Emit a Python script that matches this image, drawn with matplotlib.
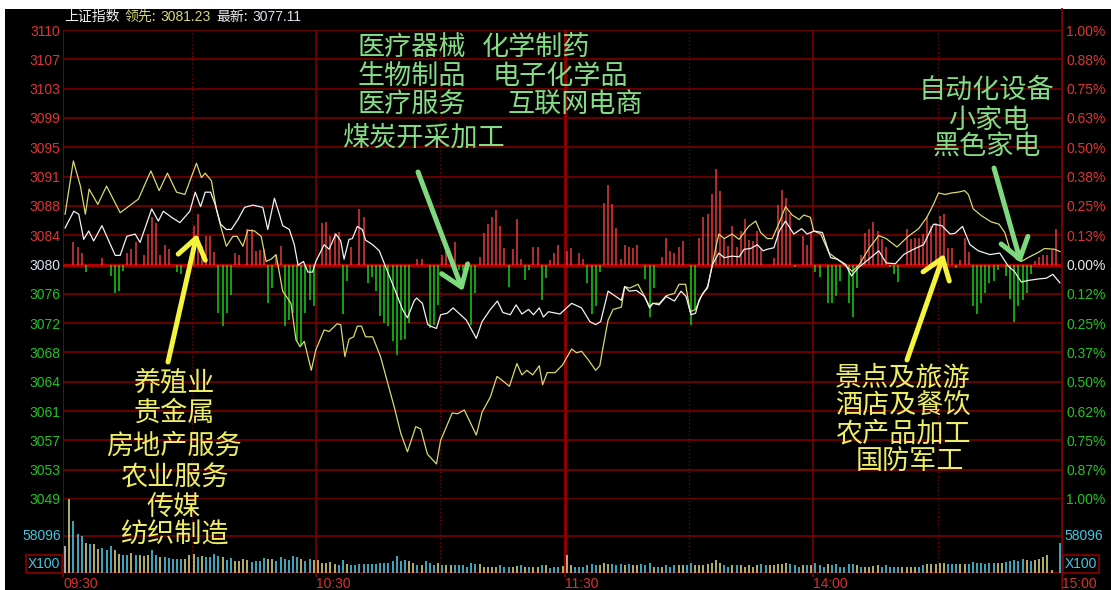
import matplotlib
matplotlib.use('Agg')
import matplotlib.pyplot as plt
from matplotlib.patches import Rectangle
from matplotlib.lines import Line2D
import numpy as np

W, H = 1111, 590

# ---------------- data ----------------
pre_close = 3080.0
step = 3.85  # one grid row = 0.125%

left_labels = ['3110', '3107', '3103', '3099', '3095', '3091', '3088', '3084', '3080',
               '3076', '3072', '3068', '3064', '3061', '3057', '3053', '3049']
right_labels = ['1.00%', '0.88%', '0.75%', '0.63%', '0.50%', '0.38%', '0.25%', '0.13%', '0.00%',
                '0.12%', '0.25%', '0.37%', '0.50%', '0.62%', '0.75%', '0.87%', '1.00%']
time_ticks = [-0.5, 60.5, 120.5, 180.5, 240.5]
time_labels = ['09:30', '10:30', '11:30', '14:00', '15:00']

# white line (index price)
price_t = [0, 2.1, 3.3, 4.5, 5.7, 6.9, 8.9, 12.1, 13.3, 14.9, 16.9, 18.1, 20.9, 22.5, 23.7, 25.7,
           27.7, 30.1, 31.4, 32.7, 33.8, 35.1, 36.2, 37.5, 38.9, 40.1, 41.7, 43.3, 45.3, 47.7,
           48.9, 50.5, 51.7, 52.5, 54.1, 55.3, 56.2, 57.5, 58.6, 59.7, 60.5, 62.5, 63.7, 65.3,
           66.5, 67.3, 68.5, 69.3, 70.5, 71.7, 72.5, 74.2, 75.8, 77.4, 79.4, 81.4, 82.6, 84.2,
           84.8, 86.2, 87.5, 88.2, 89.6, 90.6, 92.2, 93.6, 95.0, 96.8, 99.2, 100.6, 102.6, 104.3,
           105.6, 107.4, 108.8, 110.2, 111.8, 113.0, 114.4, 115.4, 116.6, 119.4, 122.2, 124.6,
           126.6, 128.0, 129.2, 131.0, 134.2, 135.0, 136.1, 137.8, 139.8, 141.0, 141.8, 143.3,
           145.0, 147.0, 148.6, 149.8, 151.0, 152.1, 153.0, 155.0, 156.2, 157.7, 159.0, 160.9,
           162.6, 163.8, 165.4, 167.0, 168.4, 169.4, 171.0, 172.3, 173.8, 175.8, 177.7, 179.0,
           180.7, 182.7, 184.7, 186.3, 188.3, 189.7, 191.4, 193.9, 196.3, 198.1, 200.3, 202.3,
           204.3, 207.1, 209.5, 211.5, 213.5, 214.7, 216.5, 218.3, 220.3, 223.1, 225.5, 227.5,
           229.0, 230.7, 232.3, 234.8, 236.7, 238.3, 240]
price_v = [3084.8, 3087.0, 3086.6, 3083.3, 3084.4, 3083.1, 3085.1, 3081.2, 3081.2, 3083.7, 3084.0,
           3082.9, 3087.3, 3085.7, 3087.0, 3086.2, 3085.5, 3087.0, 3089.5, 3087.6, 3089.5, 3089.5,
           3087.9, 3085.3, 3084.6, 3084.6, 3085.9, 3087.5, 3087.8, 3087.5, 3084.6, 3088.7, 3086.6,
           3085.1, 3084.6, 3082.6, 3079.9, 3080.4, 3079.0, 3079.0, 3080.4, 3082.6, 3082.0, 3084.0,
           3083.1, 3080.7, 3083.3, 3083.4, 3085.0, 3084.6, 3083.2, 3082.6, 3081.8, 3079.6, 3076.9,
           3074.1, 3073.0, 3075.2, 3075.6, 3074.9, 3072.1, 3071.9, 3071.6, 3073.4, 3073.6, 3074.3,
           3073.6, 3072.7, 3070.3, 3072.5, 3074.1, 3075.2, 3073.7, 3073.4, 3074.7, 3073.5, 3074.1,
           3073.4, 3074.3, 3073.1, 3073.8, 3073.5, 3074.9, 3074.3, 3072.5, 3072.1, 3072.5, 3076.5,
           3075.3, 3077.1, 3076.5, 3076.6, 3075.8, 3074.3, 3074.9, 3074.7, 3075.8, 3075.2, 3076.5,
           3075.8, 3073.4, 3073.6, 3075.4, 3077.1, 3080.0, 3081.5, 3080.9, 3081.1, 3081.0, 3082.0,
           3082.1, 3082.6, 3081.8, 3082.0, 3082.2, 3084.4, 3085.7, 3084.0, 3084.7, 3084.0, 3084.4,
           3084.2, 3080.9, 3080.7, 3080.0, 3078.5, 3079.6, 3080.7, 3081.8, 3080.2, 3080.1, 3081.3,
           3081.9, 3082.6, 3085.3, 3085.1, 3084.0, 3084.1, 3085.0, 3082.6, 3081.8, 3081.3, 3081.5,
           3079.8, 3079.1, 3077.7, 3077.9, 3078.1, 3078.2, 3078.7, 3077.6]

# yellow line (leading index)
lead_t = [0, 2.0, 3.7, 4.9, 5.8, 7.9, 10.0, 13.3, 17.7, 20.7, 22.7, 24.7, 26.9, 28.9, 31.7, 32.9,
          33.8, 35.3, 36.5, 37.5, 38.9, 40.5, 41.5, 42.9, 44.1, 45.7, 47.3, 48.5, 49.7, 50.9,
          52.5, 54.5, 55.7, 56.7, 57.7, 59.4, 60.5, 62.5, 63.7, 65.6, 66.5, 67.5, 68.5, 69.6,
          70.5, 71.5, 72.5, 74.2, 76.1, 79.4, 81.0, 82.6, 84.6, 85.8, 87.4, 89.6, 90.6, 93.4,
          94.7, 96.3, 99.2, 100.6, 102.6, 104.2, 105.4, 107.2, 109.0, 110.2, 111.4, 112.8, 114.4,
          115.2, 116.3, 118.2, 120.0, 122.2, 123.4, 124.6, 126.2, 128.0, 129.0, 129.8, 131.0,
          132.2, 134.2, 135.0, 136.2, 138.2, 139.4, 141.0, 141.8, 143.4, 145.0, 147.0, 148.1,
          149.7, 150.8, 152.1, 153.8, 155.0, 156.4, 157.7, 159.0, 160.9, 162.6, 164.9, 166.6,
          167.8, 169.4, 170.6, 172.3, 173.8, 175.4, 177.1, 178.2, 179.8, 180.6, 182.3, 184.3,
          187.5, 189.9, 191.5, 193.9, 196.3, 198.1, 200.7, 203.4, 205.9, 207.9, 209.5, 210.7,
          212.3, 213.9, 215.4, 217.0, 217.9, 219.1, 221.1, 223.4, 225.3, 226.7, 227.9, 229.5,
          230.7, 232.3, 234.8, 236.3, 238.7, 240]
lead_v = [3086.6, 3093.6, 3090.3, 3086.6, 3089.9, 3087.9, 3090.3, 3086.8, 3088.6, 3092.3, 3089.7,
          3092.0, 3089.5, 3089.2, 3093.3, 3091.4, 3092.0, 3091.0, 3087.3, 3085.1, 3082.4, 3083.7,
          3083.7, 3082.4, 3084.5, 3084.4, 3083.7, 3080.4, 3080.7, 3081.3, 3076.5, 3074.9, 3070.1,
          3069.2, 3069.9, 3066.1, 3068.8, 3071.4, 3071.2, 3072.2, 3072.1, 3067.9, 3070.2, 3070.5,
          3071.9, 3071.9, 3070.5, 3070.5, 3067.9, 3061.3, 3057.8, 3055.4, 3058.7, 3058.4, 3055.1,
          3053.8, 3056.9, 3060.5, 3060.4, 3060.9, 3057.6, 3060.6, 3062.6, 3065.3, 3064.8, 3064.0,
          3067.0, 3065.5, 3066.1, 3065.5, 3066.7, 3064.2, 3065.8, 3065.8, 3066.8, 3068.9, 3068.4,
          3068.6, 3067.5, 3066.1, 3066.7, 3069.2, 3072.7, 3074.1, 3074.4, 3077.1, 3076.9, 3077.4,
          3076.2, 3074.5, 3074.9, 3074.9, 3075.9, 3076.2, 3077.4, 3077.4, 3073.8, 3074.1, 3076.2,
          3076.9, 3080.7, 3084.0, 3083.4, 3084.0, 3083.3, 3085.0, 3085.7, 3084.2, 3083.4, 3083.4,
          3085.5, 3087.6, 3086.5, 3085.9, 3086.5, 3086.2, 3084.4, 3084.0, 3081.5, 3080.2, 3079.1,
          3079.9, 3082.1, 3083.8, 3083.4, 3082.3, 3083.7, 3084.7, 3086.2, 3087.9, 3089.4, 3089.2,
          3089.4, 3089.5, 3089.7, 3089.2, 3087.3, 3086.4, 3085.6, 3085.3, 3084.2, 3082.0, 3080.7,
          3080.4, 3080.9, 3081.6, 3082.1, 3082.0, 3081.7]

# red / green strength bars around the pre-close line
up_t = [2, 3, 4, 9, 15, 16, 17, 19, 20, 21, 22, 23, 24, 25, 31, 32, 33, 34, 35, 36, 41, 42, 44, 45,
        46, 47, 48, 51, 52, 62, 63, 64, 65, 66, 69, 71, 72, 85, 86, 91, 92, 94, 100, 101, 102, 103,
        104, 105, 106, 108, 109, 110, 113, 114, 117, 118, 119, 121, 122, 124, 125, 130, 131, 132,
        133, 134, 135, 136, 137, 138, 144, 145, 146, 147, 148, 149, 153, 154, 155, 156, 157, 158,
        159, 160, 161, 162, 163, 164, 165, 166, 167, 168, 171, 172, 173, 174, 175, 178, 179, 180,
        192, 193, 194, 195, 196, 197, 198, 203, 204, 205, 206, 207, 208, 209, 210, 211, 212, 213,
        214, 216, 217, 218, 234, 235, 236, 237, 238, 239]
up_v = [3.0, 2.3, 1.5, 0.9, 1.5, 2.1, 2.9, 1.2, 4.0, 6.2, 5.4, 1.2, 2.6, 2.1, 5.1, 6.6, 2.4, 3.7, 3.8,
        1.6, 1.5, 1.2, 4.6, 4.6, 1.8, 1.9, 2.0, 1.3, 2.4, 5.4, 5.6, 3.7, 4.2, 4.3, 2.3, 7.3, 6.2, 0.7,
        0.7, 1.3, 2.0, 2.9, 1.0, 4.1, 5.3, 6.2, 7.1, 5.1, 2.2, 2.0, 6.0, 0.7, 2.3, 2.3, 0.6, 1.5, 2.6,
        1.8, 2.2, 1.5, 0.7, 8.1, 10.5, 7.9, 4.8, 0.7, 2.6, 2.3, 2.2, 2.6, 1.0, 3.5, 1.8, 1.5, 2.3,
        3.1, 3.5, 6.2, 6.6, 9.2, 12.5, 9.7, 3.3, 2.4, 5.0, 2.3, 4.4, 6.0, 3.2, 3.1, 4.4, 2.0, 0.9,
        7.8, 9.8, 8.8, 6.6, 3.7, 2.6, 4.3, 1.2, 4.1, 4.6, 5.6, 4.4, 3.3, 2.3, 4.6, 3.4, 3.5, 3.5,
        4.0, 6.3, 5.0, 5.5, 6.4, 6.6, 2.2, 2.2, 0.6, 3.5, 1.6, 0.4, 1.0, 1.2, 1.3, 1.9, 4.6]
down_t = [5, 11, 12, 13, 14, 27, 28, 37, 38, 39, 40, 49, 50, 53, 54, 55, 56, 57, 58, 59, 60, 67, 68,
          73, 74, 75, 76, 77, 78, 79, 80, 81, 82, 83, 88, 89, 90, 95, 96, 97, 98, 99, 107, 111, 112,
          115, 116, 126, 127, 128, 129, 140, 141, 142, 151, 152, 176, 181, 182, 184, 185, 186, 187,
          189, 190, 191, 199, 200, 201, 215, 219, 220, 221, 222, 223, 224, 225, 227, 228, 229, 230,
          231, 232, 233]
down_v = [1.0, 1.5, 3.7, 3.5, 0.9, 1.0, 1.3, 6.4, 8.1, 6.4, 4.0, 5.0, 3.1, 8.1, 7.3, 6.4, 10.1, 10.6,
          6.4, 4.6, 5.5, 6.5, 2.2, 2.4, 1.6, 3.5, 6.8, 7.7, 8.1, 10.1, 11.9, 9.9, 9.8, 7.7, 8.4, 7.9,
          5.3, 0.7, 0.9, 0.9, 7.9, 3.7, 2.9, 2.1, 0.7, 4.7, 1.8, 2.4, 6.5, 5.5, 1.0, 1.9, 6.9, 3.1,
          7.9, 5.9, 0.3, 1.0, 1.6, 5.1, 5.1, 4.2, 2.2, 5.1, 6.9, 3.1, 0.3, 1.2, 2.3, 0.4, 5.4, 6.5,
          5.1, 3.8, 2.4, 2.2, 0.7, 1.5, 4.5, 7.5, 5.5, 4.6, 3.7, 1.3]

# volume per minute, in thousands (x100 lots)
vol = [42.4,
       115.6, 81.1, 61.7, 58.1, 47.6, 46.0, 46.0, 37.1, 39.2, 35.6,
       42.4, 35.6, 30.3, 27.7, 27.7, 31.4, 27.7, 27.7, 26.2, 28.8,
       35.6, 28.8, 25.1, 25.1, 23.5, 22.5, 22.5, 22.5, 22.5, 27.7,
       29.3, 25.1, 26.7, 25.1, 25.1, 29.3, 26.7, 25.1, 20.9, 23.5,
       18.3, 18.3, 21.4, 19.9, 17.3, 18.3, 18.3, 24.1, 22.5, 22.5,
       18.3, 25.6, 22.5, 19.9, 26.7, 25.1, 22.5, 18.3, 22.5, 19.9,
       19.9, 16.2, 16.2, 17.3, 14.6, 13.1, 19.9, 14.6, 12.0, 13.1,
       13.6, 13.6, 13.6, 13.6, 14.6, 16.2, 16.2, 16.2, 18.8, 26.2,
       18.8, 20.9, 18.8, 15.2, 13.1, 12.0, 18.8, 15.2, 13.1, 15.2,
       13.1, 12.0, 12.0, 12.0, 12.0, 12.0, 9.9, 15.2, 13.6, 13.6,
       9.9, 9.9, 9.9, 9.9, 12.0, 9.9, 9.9, 9.9, 11.0, 12.0,
       9.9, 9.9, 9.9, 9.9, 13.1, 12.0, 7.8, 9.9, 9.9, 11.0,
       27.7, 12.0, 9.9, 9.9, 9.9, 12.0, 13.6, 12.0, 12.0, 15.2,
       13.6, 13.6, 12.0, 13.6, 12.0, 13.6, 12.0, 12.0, 13.6, 12.0,
       15.2, 9.9, 9.9, 9.9, 12.0, 9.9, 12.0, 12.0, 12.0, 12.0,
       15.2, 12.0, 12.0, 12.0, 13.6, 15.2, 20.9, 15.2, 12.0, 9.9,
       12.0, 12.0, 12.0, 9.9, 12.0, 9.9, 12.0, 13.6, 12.0, 12.0,
       12.0, 13.6, 13.6, 15.2, 13.6, 12.0, 9.9, 12.0, 12.0, 12.0,
       15.2, 12.0, 9.9, 13.6, 12.0, 13.6, 9.9, 9.9, 13.6, 13.6,
       12.0, 9.9, 9.9, 9.9, 11.0, 12.0, 9.9, 12.0, 9.9, 9.9,
       9.9, 9.9, 9.9, 9.9, 9.9, 9.9, 12.0, 13.6, 13.6, 13.6,
       15.2, 15.2, 13.6, 13.6, 13.6, 13.6, 13.6, 13.6, 17.3, 15.2,
       15.2, 13.6, 15.2, 15.2, 15.2, 15.2, 17.3, 18.8, 20.9, 18.8,
       22.5, 20.9, 18.8, 20.9, 22.5, 24.6, 27.7, 4.2, 0.0, 47.6]
vol_col = ('w' + 'ycccycyycc' + 'cyyccycyyy' + 'ccycccccyy' + 'ycyccccycc' + 'yyyyccccyy'
           + 'ccccccyccy' + 'yyyyyccycc' + 'cccccccccc' + 'ccyycycccy' + 'cyyccccccy'
           + 'yyyycccyyc' + 'ycyycycccy' + 'yyccccccyy' + 'ycccycyycc' + 'cycycccyyc'
           + 'cyyyyyyycc' + 'ycyyyyyccy' + 'yyyycccycy' + 'cccycccccc' + 'ycyyyycccc'
           + 'cyyyyccyyy' + 'yycccyyccc' + 'ccccyycccc' + 'cycyyyyyyc')
vol_mid = 58.096
vol_mid_label = '58096'

# annotation blocks
green_top = [('医疗器械', 358, 47), ('化学制药', 482, 47),
             ('生物制品', 358, 76), ('电子化学品', 493, 76),
             ('医疗服务', 358, 105), ('互联网电商', 508, 105),
             ('煤炭开采加工', 343, 138)]
green_right = [('自动化设备', 986, 90), ('小家电', 989, 120), ('黑色家电', 987, 147)]
yellow_left = [('养殖业', 174, 383), ('贵金属', 174, 413), ('房地产服务', 174, 446),
               ('农业服务', 174, 478), ('传媒', 174, 508), ('纺织制造', 174, 535)]
yellow_right = [('景点及旅游', 903, 378), ('酒店及餐饮', 903, 406),
                ('农产品加工', 903, 434), ('国防军工', 910, 462)]

# ---------------- colours ----------------
GRID = '#840000'
RED_TXT = '#e03434'
GREEN_TXT = '#22c422'
CYAN = '#46c6e2'
YEL_LINE = '#d8d872'
vcolor = {'w': '#c8c8c8', 'y': '#cfcf7a', 'c': '#48c6de'}
CJK = ['Noto Sans CJK SC', 'DejaVu Sans']
NUM = ['Liberation Sans', 'DejaVu Sans']

fig = plt.figure(figsize=(W / 100, H / 100), dpi=100, facecolor='white')
fig.add_artist(Rectangle((5 / W, 0), (W - 5) / W, (H - 9) / H, transform=fig.transFigure,
                         facecolor='black', edgecolor='none', zorder=0))


def fx(x):
    return x / W


def fy(y):
    return 1 - y / H


ax = fig.add_axes([fx(63), fy(499), 999 / W, 469 / H])
axv = fig.add_axes([fx(63), fy(573), 999 / W, 74 / H])
for a in (ax, axv):
    a.set_facecolor('none')
    a.set_xlim(-0.5, 240.5)
    for s in a.spines.values():
        s.set_visible(False)
    # vertical grid
    for xv in (30.5, 90.5, 150.5, 210.5):
        a.axvline(xv, color=GRID, lw=0.9, ls=(0, (1, 2)), zorder=1)
    for xv in (60.5, 180.5):
        a.axvline(xv, color=GRID, lw=1.1, zorder=1)
    a.axvline(120.5, color='#8c0000', lw=2.2, zorder=1)
    a.axvline(-0.5, color=GRID, lw=1.3, zorder=1)

lo, hi = pre_close - 8 * step, pre_close + 8 * step
ax.set_ylim(lo, hi)
levels = pre_close + step * np.arange(8, -9, -1)
for k, lv in zip(range(8, -9, -1), levels):
    if k == 0:
        ax.axhline(lv, color='#b00000', lw=2.4, zorder=1)
    elif k == -8:
        ax.axhline(lv, color='#8c0000', lw=1.8, zorder=1)
    else:
        ax.axhline(lv, color=GRID, lw=1.1, zorder=1)

# strength bars
ax.vlines(up_t, pre_close, pre_close + np.array(up_v), colors='#e63a3a', lw=1.1, zorder=2)
ax.vlines(down_t, pre_close - np.array(down_v), pre_close, colors='#14d214', lw=1.1, zorder=2)
# lines
ax.plot(lead_t, lead_v, color=YEL_LINE, lw=0.9, zorder=3)
ax.plot(price_t, price_v, color='#f2f2f2', lw=0.9, zorder=4)

ax.set_xticks([])
ax.set_yticks(levels)
ax.set_yticklabels(left_labels, fontfamily=NUM, fontsize=10)
ax.tick_params(axis='y', length=0, pad=2)
for i, lab in enumerate(ax.get_yticklabels()):
    lab.set_color(RED_TXT if i < 8 else ('#d6e2f2' if i == 8 else GREEN_TXT))

axr = ax.twinx()
axr.set_ylim(lo, hi)
for s in axr.spines.values():
    s.set_visible(False)
axr.set_yticks(levels)
axr.set_yticklabels(right_labels, fontfamily=NUM, fontsize=10)
axr.tick_params(axis='y', length=0, pad=3)
for i, lab in enumerate(axr.get_yticklabels()):
    lab.set_color(RED_TXT if i < 8 else ('#e8e8e8' if i == 8 else GREEN_TXT))

# volume
axv.set_ylim(0, 2 * vol_mid)
axv.axhline(vol_mid, color=GRID, lw=1.1, zorder=1)
axv.axhline(0, color=GRID, lw=1.4, zorder=1)
axv.vlines(np.arange(len(vol)), 0, vol, colors=[vcolor[c] for c in vol_col], lw=1.2, zorder=2)
axv.set_yticks([])
axv.set_xticks(time_ticks)
axv.set_xticklabels(time_labels, fontfamily=NUM, fontsize=10, color='#d83030', ha='left')
axv.tick_params(axis='x', length=3, width=1.2, color=GRID, pad=0)

# right border line through the whole panel
fig.add_artist(Line2D([fx(1062), fx(1062)], [0, fy(9)], transform=fig.transFigure,
                      color=GRID, lw=1.3, zorder=1))

# volume scale labels
for xx, ha in ((61, 'right'), (1064, 'left')):
    fig.text(fx(xx), fy(536), vol_mid_label, color=CYAN, fontsize=10, family=NUM,
             ha=ha, va='center')
    fig.text(fx(xx - 1 if ha == 'right' else xx + 1), fy(564), 'X100', color=CYAN, fontsize=10,
             family=NUM, ha=ha, va='center',
             bbox=dict(boxstyle='square,pad=0.15', facecolor='black', edgecolor='#8c0000', lw=1.2))

# header
hdr = [('上证指数', 64, '#f0f0f0'), ('领先:', 125, '#d8d878'), ('3081.23', 160, '#d8d878'),
       ('最新:', 216, '#f0f0f0'), ('3077.11', 252, '#dde4ee')]
for s, xx, c in hdr:
    fig.text(fx(xx), fy(17), s, color=c, fontsize=10, family=CJK if not s[0].isdigit() else NUM,
             ha='left', va='center')

# annotations
for s, xx, yy in green_top:
    fig.text(fx(xx), fy(yy), s, color='#84dc84', fontsize=19.5, family=CJK, ha='left', va='center',
             zorder=6)
for s, xx, yy in green_right:
    fig.text(fx(xx), fy(yy), s, color='#84dc84', fontsize=19.5, family=CJK, ha='center',
             va='center', zorder=6)
for s, xx, yy in yellow_left + yellow_right:
    fig.text(fx(xx), fy(yy), s, color='#eeee66', fontsize=19.5, family=CJK, ha='center',
             va='center', zorder=6)

arrows = [((418, 172), (463, 291), '#7ed87e'), ((994, 168), (1021, 263), '#7ed87e'),
          ((168, 362), (197, 234), '#f4f43c'), ((907, 360), (944, 254), '#f4f43c')]
for (x0, y0), (x1, y1), c in arrows:
    ax.annotate('', xy=(x1, H - y1), xytext=(x0, H - y0), xycoords='figure pixels',
                textcoords='figure pixels', annotation_clip=False, zorder=7,
                arrowprops=dict(arrowstyle='->,head_length=0.7,head_width=0.5', color=c, lw=3.6,
                                shrinkA=0, shrinkB=0, mutation_scale=20))

fig.savefig('out.png', dpi=100, facecolor=fig.get_facecolor())
